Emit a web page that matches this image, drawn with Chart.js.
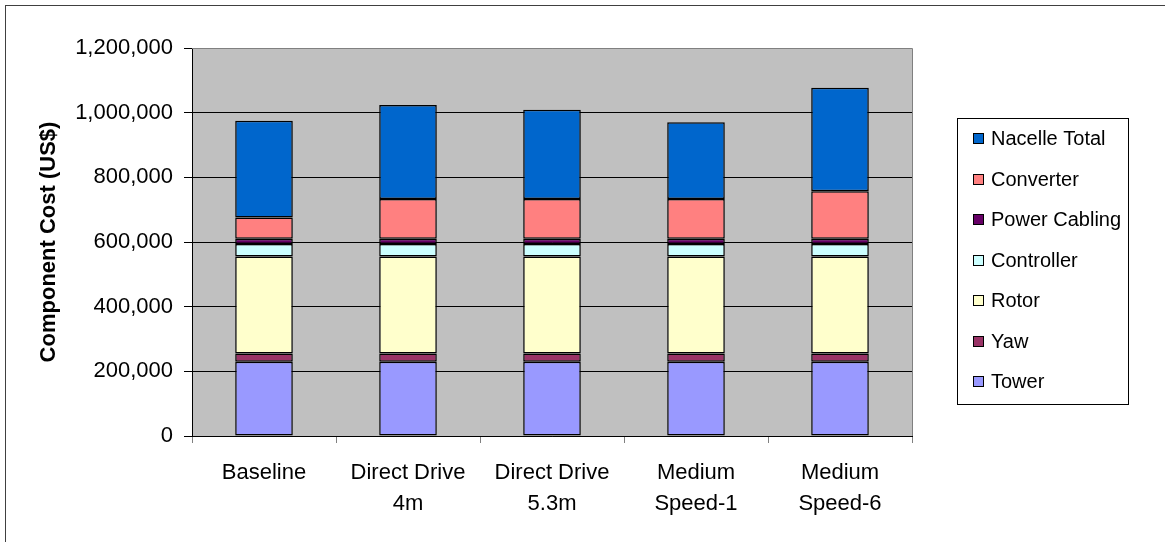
<!DOCTYPE html>
<html>
<head>
<meta charset="utf-8">
<script src="https://cdn.jsdelivr.net/npm/chart.js@4.4.1/dist/chart.umd.min.js"></script>
<style>
  html, body { margin: 0; padding: 0; background: #fff; overflow: hidden; }
  #costChart { display: block; }
</style>
</head>
<body>
<canvas id="costChart" width="1165" height="542"></canvas>
<script>
const categories = [
  ['Baseline'],
  ['Direct Drive', '4m'],
  ['Direct Drive', '5.3m'],
  ['Medium', 'Speed-1'],
  ['Medium', 'Speed-6']
];

// component costs, US$ (stacked bottom to top)
const tower        = [230000, 230000, 230000, 230000, 230000];
const yaw          = [25000, 25000, 25000, 25000, 25000];
const rotor        = [300000, 300000, 300000, 300000, 300000];
const controller   = [39000, 39000, 39000, 39000, 39000];
const powerCabling = [16000, 16000, 16000, 16000, 16000];
const converter    = [66000, 123000, 123000, 123000, 147000];
const nacelleTotal = [299000, 291000, 276000, 237000, 320000];

const yTicks = [0, 200000, 400000, 600000, 800000, 1000000, 1200000];

const FONT = '"Liberation Sans", Arial, sans-serif';

const series = [
  { label: 'Tower',         data: tower,        color: '#9999FF' },
  { label: 'Yaw',           data: yaw,          color: '#993366' },
  { label: 'Rotor',         data: rotor,        color: '#FFFFCC' },
  { label: 'Controller',    data: controller,   color: '#CCFFFF' },
  { label: 'Power Cabling', data: powerCabling, color: '#660066' },
  { label: 'Converter',     data: converter,    color: '#FF8080' },
  { label: 'Nacelle Total', data: nacelleTotal, color: '#0066CC' }
];

// grey plot background, frame lines, and the boxed legend on the right
const excelLook = {
  id: 'excelLook',
  beforeDraw(chart) {
    const { ctx, chartArea: a } = chart;
    ctx.save();
    ctx.strokeStyle = '#404040';
    ctx.lineWidth = 1;
    ctx.strokeRect(5.5, 5.5, 1400, 800);
    ctx.fillStyle = '#C0C0C0';
    ctx.fillRect(a.left, a.top, a.right - a.left, a.bottom - a.top);
    ctx.restore();
  },
  afterDraw(chart) {
    const { ctx, chartArea: a } = chart;
    ctx.save();
    ctx.strokeStyle = '#808080';
    ctx.lineWidth = 1;
    ctx.beginPath();
    ctx.moveTo(a.left, a.top + 0.5);
    ctx.lineTo(a.right + 0.5, a.top + 0.5);
    ctx.lineTo(a.right + 0.5, a.bottom);
    ctx.stroke();

    // legend
    const box = { x: 957.5, y: 118.5, w: 171, h: 286 };
    ctx.fillStyle = '#fff';
    ctx.fillRect(box.x, box.y, box.w, box.h);
    ctx.strokeStyle = '#000';
    ctx.strokeRect(box.x, box.y, box.w, box.h);
    ctx.font = '20px ' + FONT;
    ctx.textBaseline = 'middle';
    ctx.textAlign = 'left';
    const items = chart.data.datasets.slice().reverse();
    items.forEach((ds, i) => {
      const cy = 138.5 + i * 40.5;
      ctx.fillStyle = ds.backgroundColor;
      ctx.fillRect(973, Math.round(cy - 5.5), 11, 11);
      ctx.strokeStyle = '#000';
      ctx.strokeRect(973.5, Math.round(cy - 5.5) + 0.5, 10, 10);
      ctx.fillStyle = '#000';
      ctx.fillText(ds.label, 991, cy + 1);
    });
    ctx.restore();
  }
};

new Chart(document.getElementById('costChart'), {
  type: 'bar',
  data: {
    labels: categories,
    datasets: series.map(s => ({
      label: s.label,
      data: s.data,
      backgroundColor: s.color,
      borderColor: '#000',
      borderWidth: 1.5,
      borderSkipped: false,
      categoryPercentage: 1,
      barPercentage: 0.4
    }))
  },
  options: {
    responsive: false,
    animation: false,
    layout: { padding: { left: 0, top: 48, right: 253, bottom: 0 } },
    plugins: {
      legend: { display: false },
      tooltip: { enabled: false }
    },
    scales: {
      x: {
        stacked: true,
        afterFit(scale) { scale.height = 106; },
        border: { color: '#000', width: 1 },
        grid: {
          offset: true,
          drawOnChartArea: false,
          tickLength: 7,
          tickColor: '#808080'
        },
        ticks: {
          color: '#000',
          padding: 15,
          maxRotation: 0,
          font: { family: FONT, size: 22, lineHeight: 1.38 }
        }
      },
      y: {
        stacked: true,
        min: 0,
        max: 1200000,
        afterFit(scale) { scale.width = 192; },
        afterBuildTicks(scale) { scale.ticks = yTicks.map(v => ({ value: v })); },
        border: { color: '#000', width: 1 },
        grid: {
          color: ctx => (ctx.tick && ctx.tick.value === 1200000 ? '#808080' : '#000'),
          tickColor: '#000',
          tickLength: 8
        },
        ticks: {
          color: '#000',
          padding: 11,
          font: { family: FONT, size: 22 },
          callback: v => v.toLocaleString('en-US')
        },
        title: {
          display: true,
          text: 'Component Cost (US$)',
          color: '#000',
          padding: { top: 36, bottom: 0 },
          font: { family: FONT, size: 22, weight: 'bold' }
        }
      }
    }
  },
  plugins: [excelLook]
});
</script>
</body>
</html>
